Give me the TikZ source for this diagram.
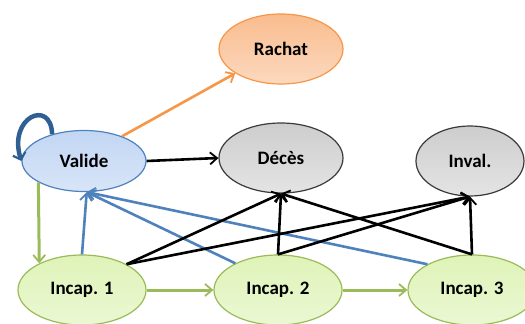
\documentclass[tikz,border=0pt]{standalone}
\usepackage{fontspec}
\setmainfont{Carlito}
\usetikzlibrary{arrows.meta,shapes.geometric}

\definecolor{orangeline}{HTML}{F79646}
\definecolor{orangetop}{HTML}{F9BC8E}
\definecolor{orangebot}{HTML}{FCD9BF}
\definecolor{blueline}{HTML}{4F81BD}
\definecolor{bluedark}{HTML}{2F5F93}
\definecolor{bluetop}{HTML}{C2D6F3}
\definecolor{bluebot}{HTML}{D8E5F8}
\definecolor{greyline}{HTML}{3A3A3A}
\definecolor{greytop}{HTML}{CDCDCD}
\definecolor{greybot}{HTML}{E4E4E4}
\definecolor{greenline}{HTML}{9BBB59}
\definecolor{greentop}{HTML}{DFF3B8}
\definecolor{greenbot}{HTML}{EBF8D3}

\tikzset{
  state/.style={ellipse, draw, line width=1.2pt, minimum width=124pt,
    minimum height=70pt, inner sep=0pt, font=\bfseries\fontsize{19}{22}\selectfont},
  rachatstate/.style={state, draw=orangeline, top color=orangetop, bottom color=orangebot},
  validestate/.style={state, draw=blueline, top color=bluetop, bottom color=bluebot, minimum height=61pt},
  deadstate/.style={state, draw=greyline, top color=greytop, bottom color=greybot},
  incapstate/.style={state, draw=greenline, top color=greentop, bottom color=greenbot, minimum width=128pt},
  tip/.style={-{Straight Barb[length=7pt,width=12pt,line width=1.8pt]}},
  orangearrow/.style={tip, draw=orangeline, line width=2.6pt},
  blackarrow/.style={tip, draw=black, line width=2.6pt},
  bluearrow/.style={tip, draw=blueline, line width=2.6pt},
  greenarrow/.style={tip, draw=greenline, line width=3pt},
  loopline/.style={-{Straight Barb[length=6pt,width=13pt,line width=2.2pt]}, draw=bluedark, line width=4.5pt},
}

\begin{document}
\begin{tikzpicture}[x=1pt,y=-1pt]
  \useasboundingbox (0,0) rectangle (525,324);
  \clip (0,0) rectangle (525,324);

  % states
  \node[rachatstate] (R) at (281,49) {Rachat};
  \node[validestate] (V) at (84,161) {Valide};
  \node[deadstate]   (D) at (281,158) {Décès};
  \node[deadstate, minimum width=108pt] (N) at (470,161) {Inval.};
  \node[incapstate]  (I1) at (82,290) {Incap. 1};
  \node[incapstate]  (I2) at (278,290) {Incap. 2};
  \node[incapstate]  (I3) at (472,290) {Incap. 3};

  % recoveries back to Valide
  \draw[bluearrow] (I1.north) -- (V.-85);
  \draw[bluearrow] (I2.148) -- (V.-85);
  \draw[bluearrow] (I3.150) -- (V.-85);

  % deaths and invalidity from each incapacity state
  \draw[blackarrow] (I1.30) -- (D.south);
  \draw[blackarrow] (I1.30) -- (N.south);
  \draw[blackarrow] (I2.north) -- (D.south);
  \draw[blackarrow] (I2.north) -- (N.south);
  \draw[blackarrow] (I3.north) -- (N.south);
  \draw[blackarrow] (I3.north) -- (D.south);

  % transitions out of Valide
  \draw[orangearrow] (V.33) -- (R.208);
  \draw[blackarrow] (V.east) -- (D.west);
  \draw[greenarrow] (V.205) -- (I1.148);

  % incapacity progression
  \draw[greenarrow] (I1.east) -- (I2.west);
  \draw[greenarrow] (I2.east) -- (I3.west);

  % staying valid
  \draw[loopline] (V.140) .. controls +(-1,-36) and +(-14,-44) .. (V.180);
\end{tikzpicture}
\end{document}
